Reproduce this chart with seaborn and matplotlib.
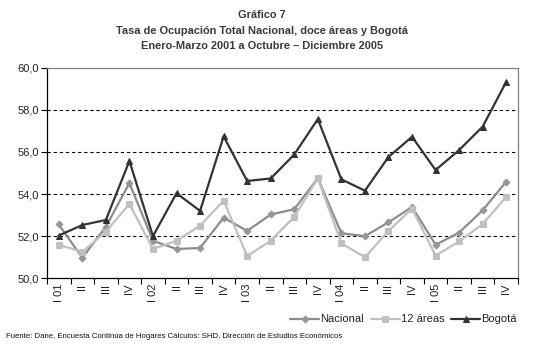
import matplotlib
matplotlib.use("Agg")
import matplotlib.pyplot as plt
import seaborn as sns
import pandas as pd
import numpy as np

quarters = ["I 01", "II", "III", "IV", "I 02", "II", "III", "IV", "I 03", "II", "III", "IV",
            "I 04", "II", "III", "IV", "I 05", "II", "III", "IV"]
nacional = [52.56, 50.97, 52.45, 54.52, 51.78, 51.39, 51.44, 52.88, 52.25, 53.03,
            53.28, 54.75, 52.14, 52.00, 52.66, 53.39, 51.59, 52.17, 53.23, 54.59]
doce_areas = [51.59, 51.25, 52.22, 53.53, 51.39, 51.78, 52.50, 53.69, 51.06, 51.78,
              52.92, 54.75, 51.66, 51.00, 52.25, 53.31, 51.08, 51.75, 52.58, 53.86]
bogota = [52.03, 52.53, 52.77, 55.57, 52.00, 54.04, 53.20, 56.74, 54.62, 54.74,
          55.88, 57.56, 54.70, 54.16, 55.76, 56.72, 55.14, 56.09, 57.20, 59.33]
series_names = ["Nacional", "12 áreas", "Bogotá"]

sns.set_theme(style="white")
plt.rcParams['font.family'] = ['Liberation Sans', 'DejaVu Sans']

fig = plt.figure(figsize=(5.34, 3.51), dpi=100)
ax = fig.add_axes([47/534, 1-278.3/351, (518-47)/534, (278.3-67.7)/351])

x = np.arange(len(quarters))
styles = [
    (nacional, "#8c8c8c", "D", 3.5, "#969696"),
    (doce_areas, "#c0c0c0", "s", 4.2, "#c0c0c0"),
    (bogota, "#333333", "^", 5, "#333333"),
]
for (vals, col, mk, ms, mfc), name in zip(styles, series_names):
    df = pd.DataFrame({"x": x, "y": vals})
    sns.lineplot(data=df, x="x", y="y", ax=ax, color=col, marker=mk, markersize=ms,
                 markerfacecolor=mfc, markeredgecolor=mfc, linewidth=1.6, label=name)

ax.set_xlim(-0.5, len(quarters) - 0.5)
ax.set_ylim(50, 60)
yt = [50, 52, 54, 56, 58, 60]
ax.set_yticks(yt)
ax.set_yticklabels([f"{v:.1f}".replace(".", ",") for v in yt], fontsize=8, color="#222222")
for v in [52, 54, 56, 58]:
    ax.axhline(v, color="black", linestyle=(0, (3, 2.5)), linewidth=0.8, zorder=0)

ax.set_xticks(x)
ax.set_xticklabels(quarters, rotation=90, fontsize=8, color="#222222", va="top")
ax.set_xticks(np.arange(-0.5, len(quarters), 1), minor=True)
ax.tick_params(axis="x", which="major", length=0, pad=4)
ax.tick_params(axis="x", which="minor", length=4, width=0.8, color="black", direction="out", bottom=True)
ax.tick_params(axis="y", which="major", length=4, width=0.8, color="black", direction="out", left=True, pad=2)
ax.set_xlabel("")
ax.set_ylabel("")

for s in ["left", "bottom"]:
    ax.spines[s].set_color("black")
    ax.spines[s].set_linewidth(0.9)
for s in ["top", "right"]:
    ax.spines[s].set_color("#808080")
    ax.spines[s].set_linewidth(0.9)

leg = ax.legend(loc="upper right", bbox_to_anchor=(521/534, 1-310/351), bbox_transform=fig.transFigure,
                ncol=3, frameon=False, fontsize=8, handlelength=2.6, handletextpad=0.1,
                columnspacing=0.6, borderaxespad=0)
for t in leg.get_texts():
    t.set_color("#222222")

tcol = "#3a3a3a"
fig.text(262/534, 1-15/351, "Gráfico 7", ha="center", va="center", fontsize=7.9, fontweight="bold", color=tcol)
fig.text(262/534, 1-31/351, "Tasa de Ocupación Total Nacional, doce áreas y Bogotá", ha="center", va="center",
         fontsize=7.9, fontweight="bold", color=tcol)
fig.text(262/534, 1-46/351, "Enero-Marzo 2001 a Octubre – Diciembre 2005", ha="center", va="center",
         fontsize=7.9, fontweight="bold", color=tcol)
fig.text(6/534, 1-337/351, "Fuente: Dane, Encuesta Continua de Hogares Cálculos: SHD, Dirección de Estudios Económicos",
         ha="left", va="center", fontsize=5.6, color="#111111")

fig.savefig("out.png", dpi=100)
